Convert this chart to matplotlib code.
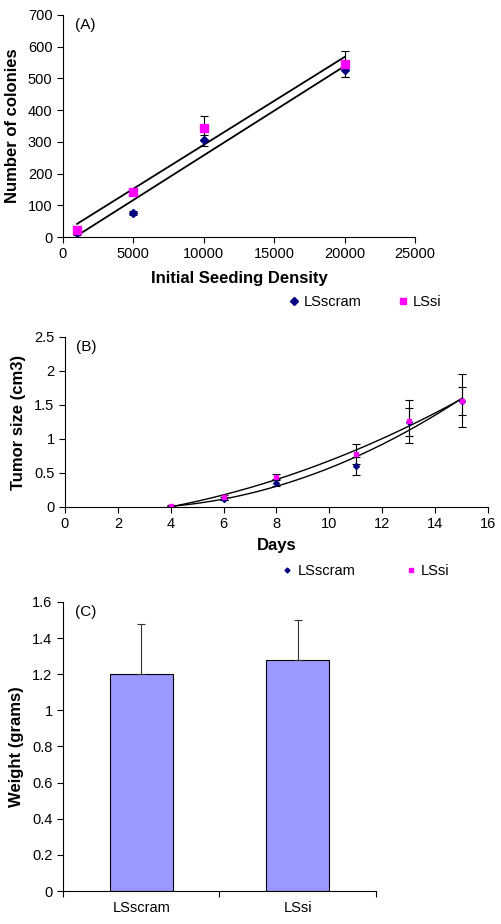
import numpy as np
import matplotlib
matplotlib.use("Agg")
import matplotlib.pyplot as plt
from matplotlib.lines import Line2D

plt.rcParams['font.family'] = ['Liberation Sans', 'DejaVu Sans']
plt.rcParams['font.size'] = 10.5

# panel A: colony formation
seed_density = [1000, 5000, 10000, 20000]
colonies_scram = [12, 75, 305, 525]
colonies_scram_err = [5, 6, 17, 20]
colonies_si = [22, 142, 343, 545]
colonies_si_err = [6, 8, 37, 40]

# panel B: tumor growth
days = [4, 6, 8, 11, 13, 15]
tumor_scram = [0.0, 0.12, 0.36, 0.60, 1.25, 1.56]
tumor_scram_err = [0.01, 0.02, 0.05, 0.13, 0.21, 0.21]
tumor_si = [0.02, 0.14, 0.44, 0.78, 1.26, 1.56]
tumor_si_err = [0.01, 0.03, 0.05, 0.15, 0.32, 0.39]

# panel C: tumor weight
groups = ['LSscram', 'LSsi']
weight = [1.20, 1.28]
weight_err = [0.28, 0.22]

NAVY = '#000080'
MAGENTA = '#FF00FF'
LABEL_FS = 12

fig = plt.figure(figsize=(5.01, 9.24), dpi=100)


def style_axes(ax):
    ax.spines['top'].set_visible(False)
    ax.spines['right'].set_visible(False)
    ax.tick_params(direction='out', length=4, width=0.8, labelsize=10.5)


# ---- (A)
axA = fig.add_axes([0.1257, 0.7435, 0.7026, 0.2403])
style_axes(axA)
axA.errorbar(seed_density, colonies_scram, yerr=colonies_scram_err, fmt='none',
             ecolor='black', elinewidth=0.8, capsize=3, capthick=0.8)
axA.errorbar(seed_density, colonies_si, yerr=colonies_si_err, fmt='none',
             ecolor='black', elinewidth=0.8, capsize=3, capthick=0.8)
xs = np.array([seed_density[0], seed_density[-1]])
for vals in (colonies_scram, colonies_si):
    k, b = np.polyfit(seed_density, vals, 1)
    axA.plot(xs, k * xs + b, color='black', lw=1.3)
axA.plot(seed_density, colonies_scram, 'D', color=NAVY, ms=4.5, ls='none')
axA.plot(seed_density, colonies_si, 's', color=MAGENTA, ms=5.5, ls='none')
axA.set_xlim(0, 25000)
axA.set_ylim(0, 700)
axA.set_xticks(range(0, 25001, 5000))
axA.set_yticks(range(0, 701, 100))
axA.set_xlabel('Initial Seeding Density', fontweight='bold', fontsize=LABEL_FS, labelpad=7)
axA.set_ylabel('Number of colonies', fontweight='bold', fontsize=LABEL_FS, labelpad=6)
axA.text(0.035, 0.955, '(A)', transform=axA.transAxes, va='center', fontsize=11)
handlesA = [Line2D([], [], marker='D', color=NAVY, ls='none', ms=4.5),
            Line2D([], [], marker='s', color=MAGENTA, ls='none', ms=5)]
fig.legend(handlesA, ['LSscram', 'LSsi'], loc='center', bbox_to_anchor=(0.725, 0.673),
           ncol=2, frameon=False, columnspacing=2.2, handletextpad=0.1,
           handlelength=1.2, fontsize=10.5)

# ---- (B)
axB = fig.add_axes([0.1297, 0.4513, 0.8443, 0.184])
style_axes(axB)
axB.errorbar(days, tumor_scram, yerr=tumor_scram_err, fmt='none',
             ecolor='black', elinewidth=0.8, capsize=3, capthick=0.8)
axB.errorbar(days, tumor_si, yerr=tumor_si_err, fmt='none',
             ecolor='black', elinewidth=0.8, capsize=3, capthick=0.8)
xd = np.linspace(days[0], days[-1], 100)
for vals in (tumor_scram, tumor_si):
    c = np.polyfit(days, vals, 2)
    axB.plot(xd, np.polyval(c, xd), color='black', lw=1.0)
axB.plot(days, tumor_scram, 'D', color=NAVY, ms=3, ls='none')
axB.plot(days, tumor_si, 's', color=MAGENTA, ms=3.5, ls='none')
axB.set_xlim(0, 16)
axB.set_ylim(0, 2.5)
axB.set_xticks(range(0, 17, 2))
axB.set_yticks([0, 0.5, 1, 1.5, 2, 2.5])
axB.set_yticklabels(['0', '0.5', '1', '1.5', '2', '2.5'])
axB.set_xlabel('Days', fontweight='bold', fontsize=LABEL_FS, labelpad=5)
axB.set_ylabel('Tumor size (cm3)', fontweight='bold', fontsize=LABEL_FS, labelpad=6)
axB.text(0.026, 0.94, '(B)', transform=axB.transAxes, va='center', fontsize=11)
handlesB = [Line2D([], [], marker='D', color=NAVY, ls='none', ms=2.5),
            Line2D([], [], marker='s', color=MAGENTA, ls='none', ms=3)]
fig.legend(handlesB, ['LSscram', 'LSsi'], loc='center', bbox_to_anchor=(0.727, 0.382),
           ncol=2, frameon=False, columnspacing=3.2, handletextpad=0.1,
           handlelength=1.2, fontsize=10.5)

# ---- (C)
axC = fig.add_axes([0.1257, 0.0357, 0.6248, 0.3128])
style_axes(axC)
pos = np.arange(len(groups))
axC.bar(pos, weight, width=0.4, color='#9999FF', edgecolor='black', linewidth=0.8)
axC.errorbar(pos, weight, yerr=[np.zeros(len(weight)), weight_err], fmt='none',
             ecolor='#333333', elinewidth=0.8, capsize=3, capthick=0.8)
axC.set_xlim(-0.5, 1.5)
axC.set_ylim(0, 1.6)
axC.set_yticks([0, 0.2, 0.4, 0.6, 0.8, 1, 1.2, 1.4, 1.6])
axC.set_yticklabels(['0', '0.2', '0.4', '0.6', '0.8', '1', '1.2', '1.4', '1.6'])
axC.set_xticks([-0.5, 0.5, 1.5])
axC.set_xticklabels([])
axC.set_xticks(pos, minor=True)
axC.set_xticklabels(groups, minor=True)
axC.tick_params(axis='x', which='minor', length=0, labelsize=10.5, pad=7)
axC.set_ylabel('Weight (grams)', fontweight='bold', fontsize=LABEL_FS, labelpad=6)
axC.text(0.04, 0.965, '(C)', transform=axC.transAxes, va='center', fontsize=11)

fig.savefig('out.png', dpi=100)
